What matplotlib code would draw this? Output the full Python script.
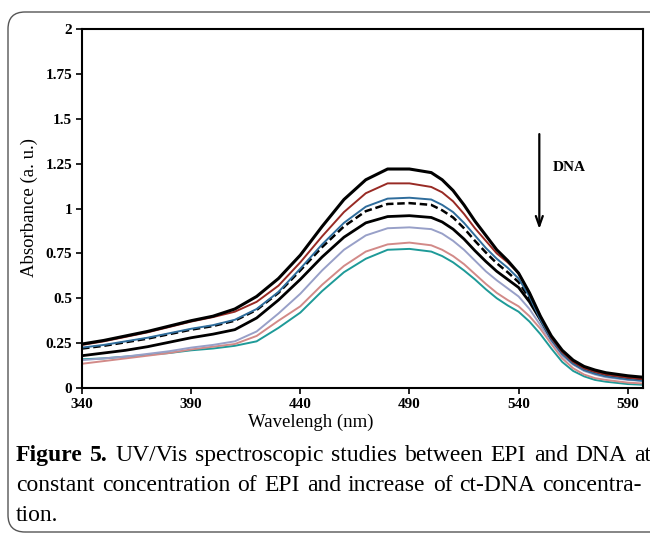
import matplotlib
matplotlib.use("Agg")
import matplotlib.pyplot as plt
from matplotlib.patches import FancyBboxPatch
from matplotlib import ticker

wl = [340, 350, 360, 370, 380, 390, 400, 410, 420, 430, 440, 450, 460, 470, 480,
      490, 500, 505, 510, 515, 520, 525, 530, 535, 540, 545, 550, 555, 560, 565,
      570, 575, 580, 590, 597]

# absorbance, from highest to lowest curve (DNA increasing)
abs_1 = [0.245, 0.265, 0.29, 0.315, 0.345, 0.375, 0.40, 0.44, 0.51, 0.61, 0.74, 0.90, 1.05, 1.16, 1.22,
         1.22, 1.20, 1.16, 1.10, 1.02, 0.93, 0.85, 0.77, 0.71, 0.64, 0.53, 0.40, 0.29, 0.21, 0.155,
         0.12, 0.10, 0.085, 0.068, 0.06]
abs_2 = [0.24, 0.26, 0.285, 0.31, 0.34, 0.37, 0.395, 0.425, 0.48, 0.57, 0.70, 0.845, 0.98, 1.085, 1.14,
         1.14, 1.12, 1.09, 1.04, 0.97, 0.89, 0.82, 0.75, 0.70, 0.64, 0.53, 0.40, 0.28, 0.20, 0.145,
         0.11, 0.09, 0.075, 0.058, 0.05]
abs_3 = [0.225, 0.24, 0.26, 0.28, 0.305, 0.33, 0.35, 0.38, 0.44, 0.535, 0.665, 0.80, 0.92, 1.01, 1.055,
         1.06, 1.05, 1.02, 0.98, 0.92, 0.85, 0.78, 0.72, 0.67, 0.61, 0.51, 0.38, 0.27, 0.19, 0.135,
         0.10, 0.08, 0.065, 0.048, 0.04]
abs_4 = [0.22, 0.235, 0.255, 0.275, 0.30, 0.325, 0.345, 0.375, 0.435, 0.53, 0.655, 0.785, 0.90, 0.985, 1.025,
         1.03, 1.02, 0.99, 0.95, 0.89, 0.82, 0.755, 0.695, 0.645, 0.59, 0.50, 0.39, 0.28, 0.20, 0.145,
         0.11, 0.09, 0.075, 0.06, 0.055]
abs_5 = [0.18, 0.195, 0.21, 0.23, 0.255, 0.28, 0.30, 0.325, 0.39, 0.49, 0.605, 0.73, 0.84, 0.92, 0.955,
         0.96, 0.95, 0.925, 0.885, 0.83, 0.765, 0.705, 0.65, 0.605, 0.56, 0.48, 0.38, 0.275, 0.195, 0.14,
         0.105, 0.085, 0.07, 0.055, 0.05]
abs_6 = [0.155, 0.165, 0.175, 0.19, 0.205, 0.225, 0.24, 0.26, 0.315, 0.415, 0.525, 0.655, 0.77, 0.85, 0.89,
         0.895, 0.885, 0.86, 0.82, 0.77, 0.71, 0.65, 0.60, 0.555, 0.51, 0.44, 0.35, 0.26, 0.18, 0.13,
         0.095, 0.075, 0.06, 0.045, 0.04]
abs_7 = [0.135, 0.15, 0.165, 0.18, 0.195, 0.215, 0.23, 0.245, 0.29, 0.375, 0.455, 0.575, 0.68, 0.76, 0.80,
         0.81, 0.795, 0.77, 0.735, 0.69, 0.635, 0.58, 0.53, 0.49, 0.455, 0.40, 0.33, 0.245, 0.165, 0.11,
         0.075, 0.055, 0.045, 0.03, 0.025]
abs_8 = [0.16, 0.165, 0.175, 0.185, 0.195, 0.21, 0.22, 0.235, 0.26, 0.335, 0.42, 0.54, 0.645, 0.72, 0.77,
         0.775, 0.76, 0.735, 0.70, 0.655, 0.605, 0.55, 0.50, 0.46, 0.425, 0.37, 0.30, 0.22, 0.145, 0.095,
         0.065, 0.045, 0.035, 0.022, 0.018]

series = [abs_1, abs_2, abs_3, abs_4, abs_5, abs_6, abs_7, abs_8]
colors = ['black', '#982a24', '#2f6d9c', 'black', 'black', '#98a0c8', '#d28a88', '#1e9a98']
widths = [2.2, 1.4, 1.4, 1.8, 2.0, 1.4, 1.4, 1.4]
styles = ['-', '-', '-', (0, (3, 1.5)), '-', '-', '-', '-']

caption_1 = ['Figure', '5.', 'UV/Vis', 'spectroscopic', 'studies', 'between', 'EPI', 'and', 'DNA', 'at']
caption_2 = ['constant', 'concentration', 'of', 'EPI', 'and', 'increase', 'of', 'ct-DNA', 'concentra-']
caption_3 = 'tion.'

plt.rcParams['font.family'] = ['Liberation Serif', 'DejaVu Serif']

W, H = 650, 533
fig = plt.figure(figsize=(6.5, 5.33), dpi=100)

# rounded frame around figure + caption (cut off on the right)
frame = FancyBboxPatch((0.08, 0.01), 7.0, 5.20,
                       boxstyle="round,pad=0,rounding_size=0.17",
                       transform=fig.dpi_scale_trans, fill=False,
                       edgecolor='#555555', lw=1.0, clip_on=False)
fig.patches.append(frame)

ax = fig.add_axes([82 / W, 1 - 388 / H, (643 - 82) / W, (388 - 29) / H])

# draw lowest first so the top black line sits on top
for i in reversed(range(len(series))):
    ax.plot(wl, series[i], color=colors[i], lw=widths[i], linestyle=styles[i],
            solid_capstyle='butt')

ax.set_xlim(340, 597)
ax.set_ylim(0, 2)
ax.set_xticks([340, 390, 440, 490, 540, 590])
ax.set_yticks([0, 0.25, 0.5, 0.75, 1, 1.25, 1.5, 1.75, 2])
ax.yaxis.set_major_formatter(ticker.FuncFormatter(lambda v, p: '%g' % v))
ax.tick_params(direction='out', length=4, width=1.2, labelsize=11, pad=3)
for lab in ax.get_xticklabels() + ax.get_yticklabels():
    lab.set_fontweight('bold')
for s in ax.spines.values():
    s.set_linewidth(1.5)

fig.text(311 / W, 1 - 427 / H, 'Wavelengh (nm)', fontsize=13.5, ha='center', va='baseline')
fig.text(29.5 / W, 1 - 207 / H, 'Absorbance (a. u.)', fontsize=13.5, rotation=90,
         ha='center', va='center')

ax.annotate('', xy=(549.5, 0.87), xytext=(549.5, 1.43),
            arrowprops=dict(arrowstyle='->,head_length=0.7,head_width=0.25', lw=1.6, color='black'))
ax.text(555.5, 1.23, 'DNA', fontsize=11, fontweight='bold', va='center', ha='left')


# justified caption lines
def justify(words, y_px, x0, x1, nbold=0, fs=17):
    texts = []
    for i, w in enumerate(words):
        texts.append(fig.text(0, 1 - y_px / H, w, fontsize=fs,
                              fontweight='bold' if i < nbold else 'normal',
                              va='baseline', ha='left'))
    r = fig.canvas.get_renderer()
    ws = [t.get_window_extent(r).width for t in texts]
    gap = (x1 - x0 - sum(ws)) / (len(words) - 1)
    x = x0
    for t, w in zip(texts, ws):
        t.set_x(x / W)
        x += w + gap


justify(caption_1, 461, 16, 651, nbold=2)
justify(caption_2, 491, 16, 642)
fig.text(16 / W, 1 - 521 / H, caption_3, fontsize=17, va='baseline', ha='left')

fig.savefig('out.png', dpi=100)
